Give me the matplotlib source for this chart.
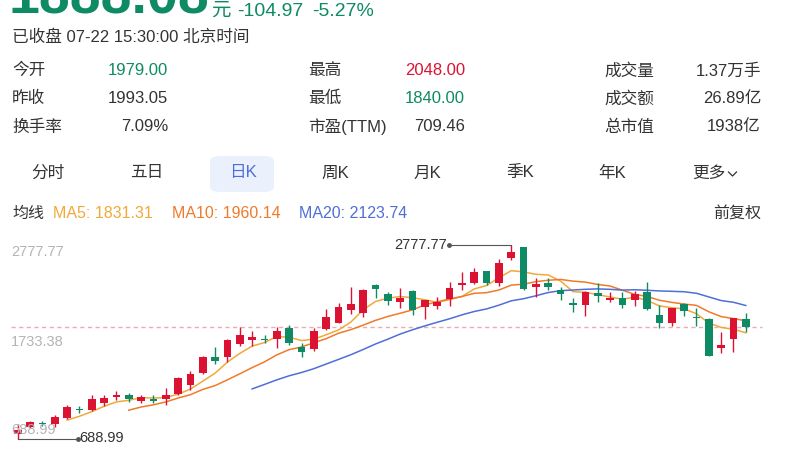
import numpy as np
import pandas as pd
import matplotlib
matplotlib.use("Agg")
import matplotlib.pyplot as plt
from matplotlib.patches import FancyBboxPatch
from matplotlib.lines import Line2D

plt.rcParams['font.family'] = ['Liberation Sans', 'Noto Sans CJK SC', 'DejaVu Sans']

# daily K data (60 sessions)
opens = [738, 813, 853, 845, 907, 1007, 997, 1069, 1137, 1158,
         1097, 1119, 1112, 1169, 1266, 1393, 1572, 1572, 1709, 1752,
         1766, 1763, 1882, 1680, 1652, 1868, 1939, 2076, 2040, 2349,
         2246, 2159, 2281, 2112, 2122, 2195, 2346, 2364, 2497, 2364,
         2641, 2753, 2328, 2364, 2297, 2148, 2130, 2256, 2181, 2202,
         2184, 2274, 2022, 1933, 2138, 2004, 1976, 1663, 1760, 1979]
highs = [845, 881, 881, 939, 1047, 1040, 1158, 1158, 1205, 1177,
         1162, 1158, 1231, 1350, 1421, 1580, 1673, 1763, 1889, 1849,
         1803, 1889, 1911, 1717, 1879, 2084, 2155, 2321, 2300, 2357,
         2274, 2317, 2292, 2184, 2220, 2382, 2483, 2526, 2497, 2627,
         2777.77, 2753, 2425, 2425, 2328, 2202, 2284, 2371, 2274, 2274,
         2284, 2382, 2130, 2101, 2155, 2094, 1993, 1842, 1995, 2048]
lows = [688.99, 799, 824, 816, 899, 961, 986, 1040, 1105, 1086,
        1069, 1069, 1051, 1162, 1212, 1385, 1493, 1518, 1687, 1687,
        1723, 1669, 1698, 1565, 1637, 1860, 1933, 2033, 2004, 2202,
        2130, 2101, 2022, 1979, 2087, 2122, 2292, 2357, 2346, 2338,
        2616, 2292, 2220, 2292, 2184, 2058, 2015, 2166, 2166, 2101,
        2122, 2080, 1879, 1907, 2015, 1903, 1578, 1609, 1619, 1840]
closes = [786, 864, 842, 918, 1026, 993, 1115, 1129, 1158, 1112,
          1134, 1097, 1155, 1339, 1385, 1565, 1529, 1752, 1806, 1781,
          1755, 1853, 1717, 1626, 1853, 1997, 2112, 2141, 2292, 2300,
          2173, 2202, 2076, 2181, 2166, 2317, 2371, 2483, 2364, 2587,
          2699, 2303, 2354, 2328, 2254, 2133, 2267, 2227, 2202, 2133,
          2249, 2087, 1933, 2101, 2069, 1993, 1583, 1698, 1993.05, 1888.08]

ma_periods = [5, 10, 20]
ma_labels = ['MA5: 1831.31', 'MA10: 1960.14', 'MA20: 2123.74']

stat_labels = [['今开', '昨收', '换手率'],
               ['最高', '最低', '市盈(TTM)'],
               ['成交量', '成交额', '总市值']]
stat_values = [['1979.00', '1993.05', '7.09%'],
               ['2048.00', '1840.00', '709.46'],
               ['1.37万手', '26.89亿', '1938亿']]

tabs = ['分时', '五日', '日K', '周K', '月K', '季K', '年K', '更多']

RED = '#dc1233'
GREEN = '#0e8a64'
TXT = '#333333'
GREY = '#b4b4b4'
MA_COLORS = ['#f2a83a', '#f07a2c', '#4f6fd6']
BLUE = '#4f6fd6'

W, H = 800, 450
fig = plt.figure(figsize=(8, 4.5), dpi=100)
fig.patch.set_facecolor('white')


def fx(x):
    return x / W


def fy(y):
    return 1 - y / H


# header
fig.text(fx(209), fy(13.5), '1888.08', color=GREEN, fontsize=40, fontweight='bold',
         ha='right', va='baseline')
fig.text(fx(211), fy(15.5), '元', color=GREEN, fontsize=14, ha='left', va='baseline')
fig.text(fx(237), fy(15.5), '-104.97', color=GREEN, fontsize=14, ha='left', va='baseline')
fig.text(fx(312), fy(15.5), '-5.27%', color=GREEN, fontsize=14, ha='left', va='baseline')
fig.text(fx(12), fy(37), '已收盘 07-22 15:30:00 北京时间', color=TXT, fontsize=12,
         ha='left', va='center')

# stats table
label_x = [12, 308, 604]
value_x = [168, 465, 761]
row_y = [70.7, 98.5, 127]
value_colors = [[GREEN, TXT, TXT], [RED, GREEN, TXT], [TXT, TXT, TXT]]
for col in range(3):
    for row in range(3):
        fig.text(fx(label_x[col]), fy(row_y[row]), stat_labels[col][row], color=TXT,
                 fontsize=12, ha='left', va='center')
        fig.text(fx(value_x[col]), fy(row_y[row]), stat_values[col][row],
                 color=value_colors[col][row], fontsize=12, ha='right', va='center')

# period tabs
tab_x = [48, 146.5, 242.5, 335, 427, 520, 612, 709]
fig.patches.append(FancyBboxPatch((fx(210), fy(192)), fx(64), 36 / H,
                                  boxstyle='round,pad=0,rounding_size=0.012',
                                  transform=fig.transFigure, facecolor='#eaf1fd',
                                  edgecolor='none'))
for t, x in zip(tabs, tab_x):
    fig.text(fx(x), fy(173), t, color=BLUE if t == '日K' else TXT, fontsize=12,
             ha='center', va='center')
fig.lines.append(Line2D([fx(728.5), fx(732.5), fx(736.5)], [fy(172), fy(176), fy(172)],
                        transform=fig.transFigure, color=TXT, lw=0.9))

# MA legend row
fig.text(fx(12), fy(213), '均线', color=TXT, fontsize=11.5, ha='left', va='center')
for lab, x, col in zip(ma_labels, [53, 171.5, 299], MA_COLORS):
    fig.text(fx(x), fy(213), lab, color=col, fontsize=11.5, ha='left', va='center')
fig.text(fx(761), fy(213), '前复权', color=TXT, fontsize=11.5, ha='right', va='center')

# candlestick chart
o = np.array(opens, dtype=float)
h = np.array(highs, dtype=float)
l = np.array(lows, dtype=float)
c = np.array(closes, dtype=float)
idx = np.arange(len(c))

x0_px, step_px = 17.7, 12.34
ytop_px, ybot_px = 245, 438.5
hi, lo = h.max(), l.min()
k = (hi - lo) / (ybot_px - ytop_px)   # price per pixel

ax = fig.add_axes([0, 0, 1, 1])
ax.axis('off')
ax.set_xlim(-x0_px / step_px, (W - x0_px) / step_px)
ax.set_ylim(hi - (H - ytop_px) * k, hi + ytop_px * k)

s = pd.Series(c)
for n, col in zip(ma_periods, MA_COLORS):
    ax.plot(idx, s.rolling(n).mean(), color=col, lw=1.1, zorder=2)

up = c >= o
colors = np.where(up, RED, GREEN)
ax.vlines(idx, l, h, colors=colors, lw=1.0, zorder=3)
body = np.abs(c - o)
body_h = np.maximum(body, k * 1.3)
bottom = np.minimum(o, c) - (body_h - body) / 2
ax.bar(idx, body_h, bottom=bottom, width=0.62, color=colors, linewidth=0, zorder=4)

# last close dashed line
ax.hlines(c[-1], (11 - x0_px) / step_px, (762 - x0_px) / step_px, colors='#eeaab2',
          linestyles=(0, (3, 2.5)), lw=1.0, zorder=1)

# price scale labels inside chart
lx = (11 - x0_px) / step_px
ax.text(lx, hi, '%.2f' % hi, color=GREY, fontsize=10.5, ha='left', va='top', zorder=5)
ax.text(lx, (hi + lo) / 2, '%.2f' % ((hi + lo) / 2), color=GREY, fontsize=10.5,
        ha='left', va='center', zorder=5)
ax.text(lx, lo + 1.5 * k, '%.2f' % lo, color=GREY, fontsize=10.5, ha='left',
        va='bottom', zorder=5)

# max / min markers
imax, imin = int(h.argmax()), int(l.argmin())
mx = imax - 62 / step_px
ax.plot([mx, imax], [hi, hi], color='#555555', lw=0.8, zorder=5)
ax.plot([mx], [hi], 'o', color='#555555', ms=2.5, zorder=6)
ax.text(mx - 2 / step_px, hi, '%.2f' % hi, color=TXT, fontsize=10.5, ha='right',
        va='center', zorder=6)
nx = imin + 60 / step_px
ax.plot([imin, nx], [lo, lo], color='#555555', lw=0.8, zorder=5)
ax.plot([nx], [lo], 'o', color='#555555', ms=2.5, zorder=6)
ax.text(nx + 2 / step_px, lo, '%.2f' % lo, color=TXT, fontsize=10.5, ha='left',
        va='center', zorder=6)

fig.savefig('out.png', dpi=100, facecolor='white')
